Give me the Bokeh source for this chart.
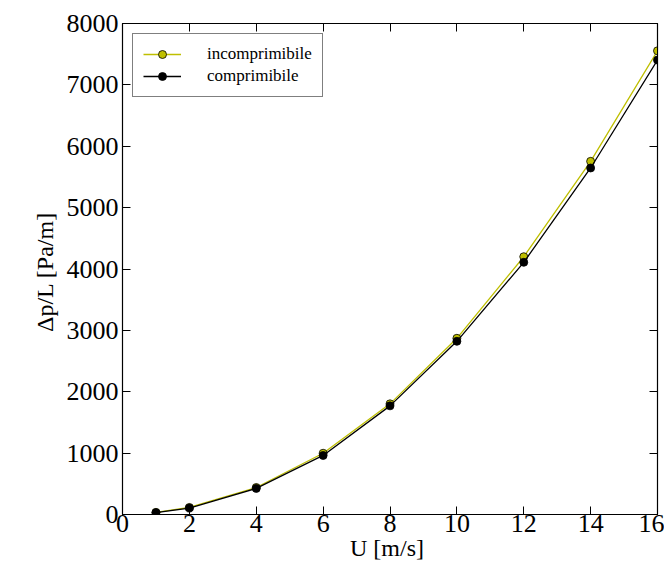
from bokeh.plotting import figure
from bokeh.models import LinearAxis, FixedTicker, Range1d, Legend, LegendItem
from bokeh.embed import file_html
from bokeh.resources import INLINE

U = [1, 2, 4, 6, 8, 10, 12, 14, 16]
incomprimibile = [35, 115, 440, 998, 1803, 2871, 4200, 5754, 7555]
comprimibile = [30, 105, 425, 962, 1770, 2822, 4109, 5646, 7405]

x_ticks = [0, 2, 4, 6, 8, 10, 12, 14, 16]
y_ticks = [0, 1000, 2000, 3000, 4000, 5000, 6000, 7000, 8000]

FONT = "Liberation Serif"
YEL = "#bfbf00"

p = figure(width=664, height=560, output_backend="svg", toolbar_location=None,
           x_range=Range1d(0, 16), y_range=Range1d(0, 8000),
           min_border_left=122, min_border_right=7, min_border_top=23, min_border_bottom=46)
p.frame_width = 535
p.frame_height = 491
p.grid.visible = False
p.outline_line_color = "black"
p.outline_line_width = 1.2

def style(ax, labels=True):
    ax.major_tick_in = 8
    ax.major_tick_out = 0
    ax.minor_tick_line_color = None
    ax.axis_line_color = "black"
    ax.major_label_text_font = FONT
    ax.major_label_text_font_size = "26px"
    ax.major_label_text_color = "black"
    ax.axis_label_text_font = FONT
    ax.axis_label_text_font_size = "24px"
    ax.axis_label_text_font_style = "normal"
    ax.axis_label_text_color = "black"
    if not labels:
        ax.major_label_text_alpha = 0
        ax.major_label_text_font_size = "0px"

p.xaxis.ticker = FixedTicker(ticks=x_ticks)
p.yaxis.ticker = FixedTicker(ticks=y_ticks)
style(p.xaxis[0])
style(p.yaxis[0])
p.xaxis.axis_label = "U  [m/s]"
p.yaxis.axis_label = "Δp/L  [Pa/m]"
p.xaxis.major_label_standoff = 0
p.yaxis.major_label_standoff = 4
p.xaxis.axis_label_standoff = 0
p.yaxis.axis_label_standoff = 6

top = LinearAxis(ticker=FixedTicker(ticks=x_ticks))
style(top, labels=False)
p.add_layout(top, "above")
right = LinearAxis(ticker=FixedTicker(ticks=y_ticks))
style(right, labels=False)
p.add_layout(right, "right")

l1 = p.line(U, incomprimibile, line_color=YEL, line_width=1.3)
c1 = p.scatter(U, incomprimibile, size=8, fill_color=YEL, line_color="black", line_width=0.8)
l2 = p.line(U, comprimibile, line_color="black", line_width=1.3)
c2 = p.scatter(U, comprimibile, size=8, fill_color="black", line_color="black", line_width=0.8)

legend = Legend(items=[LegendItem(label="incomprimibile", renderers=[l1, c1]),
                       LegendItem(label="comprimibile", renderers=[l2, c2])],
                location="top_left")
legend.label_text_font = FONT
legend.label_text_font_size = "17px"
legend.label_text_color = "black"
legend.border_line_color = "black"
legend.border_line_width = 1
legend.glyph_width = 38
legend.spacing = 2
legend.padding = 10
legend.margin = 10
legend.label_standoff = 26
p.add_layout(legend, "center")

open("out.html", "w").write(file_html(p, INLINE))
